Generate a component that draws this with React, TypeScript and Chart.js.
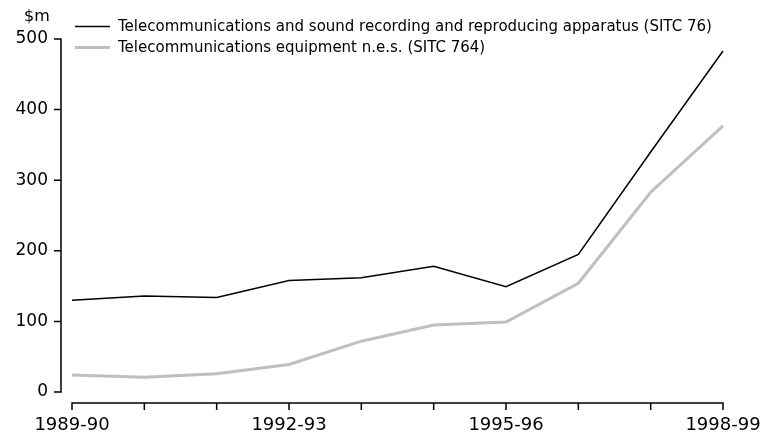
import React, { useEffect, useRef } from 'react';
import { Chart, registerables } from 'chart.js';

Chart.register(...registerables);

const categories = [
  '1989-90', '1990-91', '1991-92', '1992-93', '1993-94',
  '1994-95', '1995-96', '1996-97', '1997-98', '1998-99',
];
const sitc76 = [130, 136, 134, 158, 162, 178, 149, 195, 340, 483];
const sitc764 = [24, 21, 26, 39, 72, 95, 99, 154, 283, 377];
const seriesLabels = [
  'Telecommunications and sound recording and reproducing apparatus (SITC 76)',
  'Telecommunications equipment n.e.s. (SITC 764)',
];
const seriesColors = ['#000000', '#bfbfbf'];
const seriesWidths = [1.5, 3];
const yTicks = [0, 100, 200, 300, 400, 500];
const xLabelEvery = 3;
const unitLabel = '$m';

const FONT = '"DejaVu Sans", sans-serif';

const axesPlugin = {
  id: 'customAxes',
  afterDraw(chart: any) {
    const { ctx, chartArea, scales } = chart;
    const x = scales.x;
    const y = scales.y;
    ctx.save();
    ctx.strokeStyle = '#000';
    ctx.lineWidth = 1.5;
    // y axis
    const yx = chartArea.left - 11;
    const yTop = y.getPixelForValue(yTicks[yTicks.length - 1]);
    const yBot = y.getPixelForValue(yTicks[0]);
    ctx.beginPath();
    ctx.moveTo(yx, yTop - 0.75);
    ctx.lineTo(yx, yBot + 0.75);
    yTicks.forEach((v) => {
      const py = y.getPixelForValue(v);
      ctx.moveTo(yx - 7, py);
      ctx.lineTo(yx, py);
    });
    ctx.stroke();
    // x axis
    const xy = chartArea.bottom + 11;
    const x0 = x.getPixelForValue(0);
    const x1 = x.getPixelForValue(categories.length - 1);
    ctx.beginPath();
    ctx.moveTo(x0 - 0.75, xy);
    ctx.lineTo(x1 + 0.75, xy);
    categories.forEach((_, i) => {
      const px = x.getPixelForValue(i);
      ctx.moveTo(px, xy);
      ctx.lineTo(px, xy + 7);
    });
    ctx.stroke();
    // unit label
    ctx.fillStyle = '#000';
    ctx.font = `16px ${FONT}`;
    ctx.textAlign = 'center';
    ctx.textBaseline = 'alphabetic';
    ctx.fillText(unitLabel, 37, 21);
    // legend
    ctx.font = `15px ${FONT}`;
    ctx.textAlign = 'left';
    ctx.textBaseline = 'middle';
    chart.data.datasets.forEach((ds: any, i: number) => {
      const ly = 26.5 + i * 21;
      ctx.beginPath();
      ctx.strokeStyle = ds.borderColor;
      ctx.lineWidth = ds.borderWidth;
      ctx.moveTo(75, ly);
      ctx.lineTo(110, ly);
      ctx.stroke();
      ctx.fillStyle = '#000';
      ctx.fillText(ds.label, 118, ly + 1);
    });
    ctx.restore();
  },
};

export default function App() {
  const ref = useRef<HTMLCanvasElement | null>(null);
  useEffect(() => {
    if (!ref.current) return;
    const chart = new Chart(ref.current, {
      type: 'line',
      data: {
        labels: categories,
        datasets: [
          {
            label: seriesLabels[0],
            data: sitc76,
            borderColor: seriesColors[0],
            backgroundColor: seriesColors[0],
            borderWidth: seriesWidths[0],
            pointRadius: 0,
            tension: 0,
          },
          {
            label: seriesLabels[1],
            data: sitc764,
            borderColor: seriesColors[1],
            backgroundColor: seriesColors[1],
            borderWidth: seriesWidths[1],
            pointRadius: 0,
            tension: 0,
          },
        ],
      },
      options: {
        animation: false,
        responsive: false,
        layout: { padding: { top: 39, right: 39, bottom: 0, left: 0 } },
        plugins: {
          legend: { display: false },
          tooltip: { enabled: false },
        },
        scales: {
          x: {
            offset: false,
            grid: { display: false, drawTicks: false },
            border: { display: false },
            afterFit: (s: any) => {
              s.height = 45;
              s.paddingLeft = 0;
              s.paddingRight = 0;
            },
            ticks: {
              autoSkip: false,
              maxRotation: 0,
              padding: 23,
              color: '#000',
              font: { family: FONT, size: 18 },
              callback: (_v: any, i: number) => (i % xLabelEvery === 0 ? categories[i] : ''),
            },
          },
          y: {
            min: yTicks[0],
            max: yTicks[yTicks.length - 1],
            grid: { display: false, drawTicks: false },
            border: { display: false },
            afterFit: (s: any) => {
              s.width = 72;
              s.paddingTop = 0;
              s.paddingBottom = 0;
            },
            afterBuildTicks: (s: any) => { s.ticks = yTicks.map((v) => ({ value: v })); },
            ticks: {
              padding: 24,
              color: '#000',
              font: { family: FONT, size: 17 },
            },
          },
        },
      },
      plugins: [axesPlugin],
    });
    return () => chart.destroy();
  }, []);
  return (
    <div style={{ position: 'absolute', left: 0, top: 0, width: 762, height: 437, background: '#fff' }}>
      <canvas ref={ref} width={762} height={437} style={{ display: 'block' }} />
    </div>
  );
}
